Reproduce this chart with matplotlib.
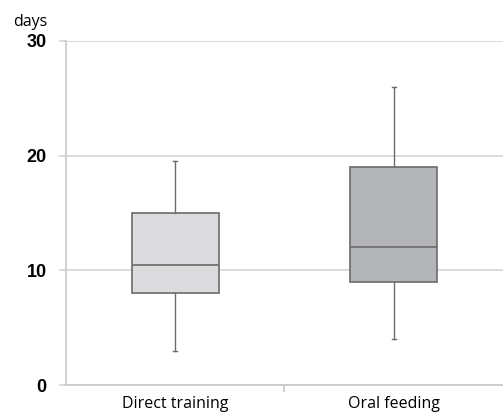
import matplotlib.pyplot as plt

# --- data ---
groups = ['Direct training', 'Oral feeding']
whisker_low = [3, 4]
q1 = [8, 9]
median = [10.5, 12]
q3 = [15, 19]
whisker_high = [19.5, 26]
box_colors = ['#dcdcde', '#b4b5b8']

yticks = [0, 10, 20, 30]

# --- figure ---
fig = plt.figure(figsize=(5.03, 4.12), dpi=100)
ax = fig.add_axes([0.1312, 0.0655, 0.8688, 0.835])

stats = []
for i, name in enumerate(groups):
    stats.append({
        'label': name,
        'whislo': whisker_low[i],
        'q1': q1[i],
        'med': median[i],
        'q3': q3[i],
        'whishi': whisker_high[i],
    })

edge = '#6b6b6b'
positions = [0.5, 1.5]
bp = ax.bxp(stats, positions=positions, widths=0.4, showfliers=False,
            patch_artist=True, capwidths=0.02,
            boxprops=dict(edgecolor=edge, linewidth=1.2),
            medianprops=dict(color=edge, linewidth=1.2),
            whiskerprops=dict(color=edge, linewidth=1.0),
            capprops=dict(color=edge, linewidth=1.0),
            zorder=3)
for patch, c in zip(bp['boxes'], box_colors):
    patch.set_facecolor(c)

ax.set_xlim(0, 2)
ax.set_ylim(0, 30)

# grid + axes styling (Excel look)
grid_c = '#d4d4d4'
ax.set_yticks(yticks)
ax.yaxis.grid(True, color=grid_c, linewidth=1.2, zorder=0)
ax.set_axisbelow(True)
for s in ['top', 'right']:
    ax.spines[s].set_visible(False)
ax.spines['left'].set_color('#c8c8c8')
ax.spines['bottom'].set_color('#c8c8c8')
ax.spines['left'].set_linewidth(1.2)
ax.spines['bottom'].set_linewidth(1.2)

ax.tick_params(axis='y', length=5, color=grid_c, width=1.2, pad=9,
               labelsize=13)
for lbl in ax.get_yticklabels():
    lbl.set_fontweight('bold')
    lbl.set_family('Liberation Sans')

ax.set_xticks(positions)
ax.set_xticklabels(groups, fontsize=11.5, family='Open Sans')
ax.tick_params(axis='x', which='major', length=0, pad=8)
ax.set_xticks([1], minor=True)
ax.tick_params(axis='x', which='minor', length=5, color='#c8c8c8', width=1.2)

fig.text(0.026, 0.947, 'days', fontsize=11.5, family='Open Sans', va='center')

plt.savefig('out.png', dpi=100)
